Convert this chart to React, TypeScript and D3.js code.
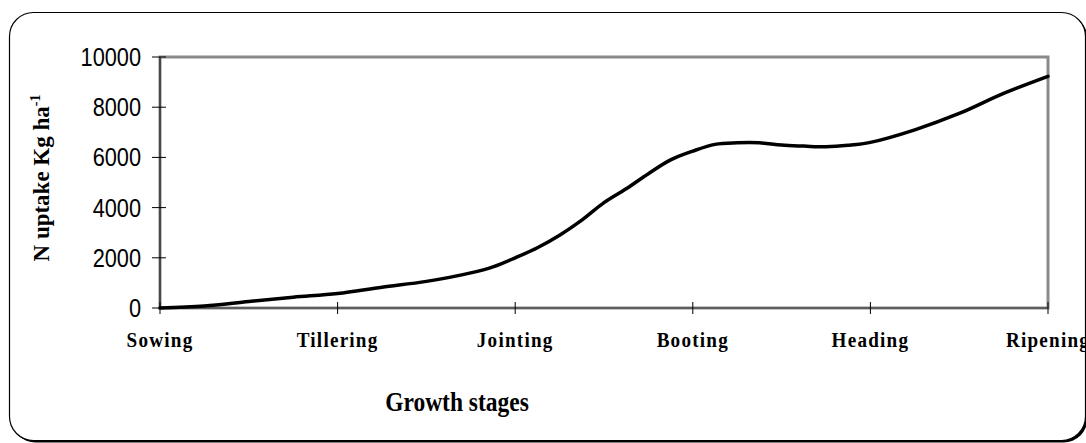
import React from "react";
import * as d3 from "d3";

const stages = ["Sowing", "Tillering", "Jointing", "Booting", "Heading", "Ripening"];
const yTicks = [0, 2000, 4000, 6000, 8000, 10000];
// position along the stage axis (0 = Sowing ... 5 = Ripening)
const stagePos = [0, 0.25, 0.5, 0.75, 1, 1.25, 1.5, 1.75, 1.875, 2, 2.125, 2.25, 2.375, 2.5, 2.625, 2.75, 2.875, 3, 3.125, 3.25, 3.375, 3.5, 3.625, 3.75, 3.875, 4, 4.25, 4.5, 4.75, 5];
const uptake = [0, 80, 260, 430, 580, 830, 1060, 1400, 1640, 2000, 2400, 2900, 3500, 4200, 4750, 5350, 5900, 6250, 6520, 6580, 6580, 6490, 6450, 6420, 6480, 6600, 7100, 7750, 8550, 9230];

export default function App() {
  const W = 1086, H = 443;
  const left = 160, right = 1048, top = 57, bottom = 308;
  const x = d3.scaleLinear().domain([0, stages.length - 1]).range([left, right]);
  const y = d3.scaleLinear().domain([0, 10000]).range([bottom, top]);
  const pts: [number, number][] = stagePos.map((s, i) => [s, uptake[i]]);
  const line = d3.line<[number, number]>()
    .x(d => x(d[0]))
    .y(d => y(d[1]))
    .curve(d3.curveCatmullRom.alpha(0.5));
  const sx = 0.87;
  return (
    <svg width={W} height={H} style={{ position: "absolute", left: 0, top: 0, background: "#fff" }}>
      <rect x={11.5} y={14.5} width={1076} height={428} rx={24} fill="#000" />
      <rect x={9.5} y={12.5} width={1076} height={428} rx={24} fill="#fff" stroke="#000" strokeWidth={1.2} />
      <rect x={left} y={top} width={right - left} height={bottom - top} fill="none" stroke="#8a8a8a" strokeWidth={3} />
      <line x1={left} x2={left} y1={top} y2={bottom} stroke="#333" strokeWidth={1.5} />
      <line x1={left} x2={right} y1={bottom} y2={bottom} stroke="#333" strokeWidth={1.2} />
      {yTicks.map(t => (
        <g key={t}>
          <line x1={left - 8} x2={left + 6} y1={y(t)} y2={y(t)} stroke="#000" strokeWidth={1} />
          <text transform={`translate(141,${y(t) + 9}) scale(${sx},1)`} textAnchor="end"
            fontFamily="'Liberation Sans', Arial, sans-serif" fontSize={25} fill="#000">{t}</text>
        </g>
      ))}
      {stages.map((s, i) => (
        <g key={s}>
          <line x1={x(i)} x2={x(i)} y1={bottom - 6} y2={bottom + 6} stroke="#000" strokeWidth={1} />
          <text transform={`translate(${x(i)},347) scale(${sx},1)`} textAnchor="middle"
            fontFamily="'Liberation Serif', 'Times New Roman', serif" fontWeight="bold" fontSize={22}
            letterSpacing={1.4} fill="#000">{s}</text>
        </g>
      ))}
      <path d={line(pts) || ""} fill="none" stroke="#000" strokeWidth={3.5} strokeLinejoin="round" strokeLinecap="round" />
      <text transform={`translate(457,411) scale(${sx},1)`} textAnchor="middle"
        fontFamily="'Liberation Serif', 'Times New Roman', serif" fontWeight="bold" fontSize={27} fill="#000">Growth stages</text>
      <text transform={`translate(49,178) rotate(-90)`} textAnchor="middle"
        fontFamily="'Liberation Serif', 'Times New Roman', serif" fontWeight="bold" fontSize={23} fill="#000">
        N uptake Kg ha<tspan dy={-9} fontSize={14}>-1</tspan>
      </text>
    </svg>
  );
}
